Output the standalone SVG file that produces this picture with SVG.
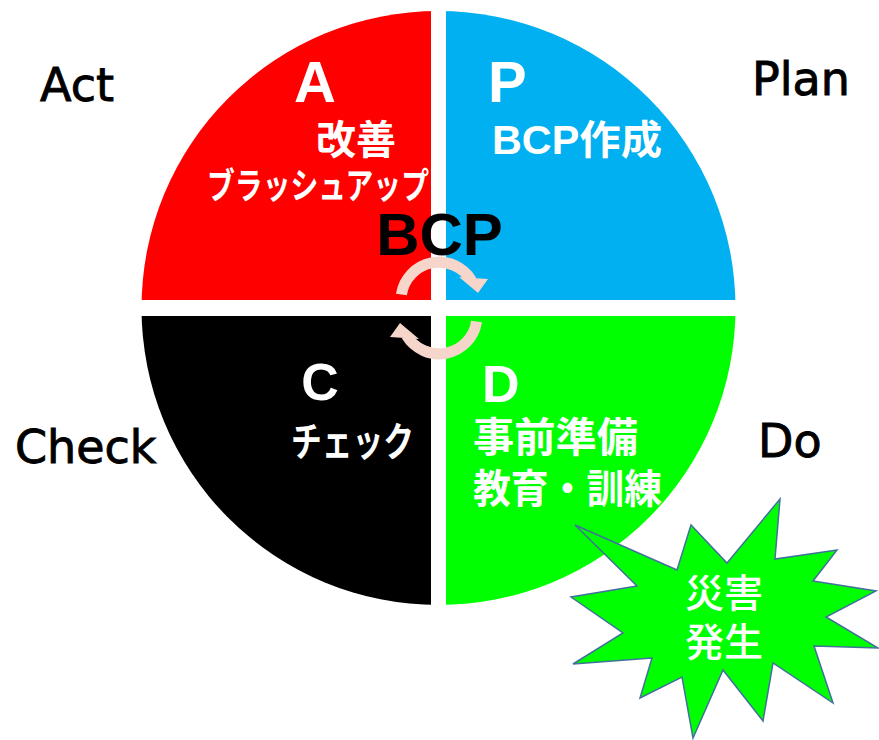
<svg xmlns="http://www.w3.org/2000/svg" width="879" height="740" viewBox="0 0 879 740">
<style>
.lbl{font-family:"DejaVu Sans","Liberation Sans",sans-serif;font-size:46px;fill:#000;stroke:#000;stroke-width:0.9px}
.big{font-family:"Liberation Sans",Arial,sans-serif;font-weight:bold;fill:#fff}
.jp{font-family:"Liberation Sans","Noto Sans CJK JP",sans-serif;font-weight:bold;fill:#fff}
.arc{fill:none;stroke:#F6D6CB;stroke-width:11}
.head{fill:#F6D6CB}
</style>
<defs>
<clipPath id="disc"><circle cx="438.5" cy="308" r="297"/></clipPath>
<g id="cyc">
<path class="arc" d="M401.4 294.5 A38 38 0 0 1 471.5 280.5"/>
<polygon class="head" points="459,277 488,279 478,293"/>
</g>
</defs>
<rect width="879" height="740" fill="#fff"/>
<g id="quad-A">
<rect x="120" y="0" width="311" height="300" fill="#FF0000" clip-path="url(#disc)"/>
<text class="big" x="315" y="102" font-size="58" text-anchor="middle">A</text>
<text class="jp" x="356" y="154" font-size="40" text-anchor="middle">改善</text>
<text class="jp" x="207" y="199" font-size="36" textLength="222" lengthAdjust="spacingAndGlyphs">ブラッシュアップ</text>
</g>
<g id="quad-P">
<rect x="446" y="0" width="310" height="300" fill="#00B0F0" clip-path="url(#disc)"/>
<text class="big" x="488" y="102" font-size="58">P</text>
<text class="jp" x="492" y="154" font-size="40" textLength="170" lengthAdjust="spacingAndGlyphs">BCP作成</text>
</g>
<g id="quad-C">
<rect x="120" y="316" width="311" height="300" fill="#000000" clip-path="url(#disc)"/>
<text class="big" x="320" y="400" font-size="52" text-anchor="middle">C</text>
<text class="jp" x="291" y="456" font-size="40" textLength="123" lengthAdjust="spacingAndGlyphs">チェック</text>
</g>
<g id="quad-D">
<rect x="446" y="316" width="310" height="300" fill="#00FF00" clip-path="url(#disc)"/>
<text class="big" x="482" y="402" font-size="52">D</text>
<text class="jp" x="473" y="452" font-size="41" textLength="165" lengthAdjust="spacingAndGlyphs">事前準備</text>
<text class="jp" x="473" y="503" font-size="40" textLength="189" lengthAdjust="spacingAndGlyphs">教育・訓練</text>
</g>
<g id="center-BCP">
<text x="439.5" y="255" font-family="Liberation Sans,Arial,sans-serif" font-weight="bold" font-size="60" text-anchor="middle" fill="#000">BCP</text>
</g>
<g id="connectors">
<use href="#cyc"/>
<use href="#cyc" transform="rotate(180 439 308)"/>
</g>
<g id="disaster">
<polygon points="575,525 677,570 691,525 727,563 780,499 775,559 837,550 813,581 876,591 826,617 878,648 814,646 833,703 773,663 763,721 723,670 693,738 682,677 640,698 652,658 573,664 623,633 571,597 637,586" fill="#00FF00" stroke="#41719C" stroke-width="1.5" stroke-linejoin="miter"/>
<text x="724" y="607" font-family="Noto Sans CJK JP,sans-serif" font-weight="500" font-size="39" fill="#fff" text-anchor="middle">災害</text>
<text x="724" y="656" font-family="Noto Sans CJK JP,sans-serif" font-weight="500" font-size="39" fill="#fff" text-anchor="middle">発生</text>
</g>
<g id="labels">
<text class="lbl" x="40" y="101">Act</text>
<text class="lbl" x="752" y="95">Plan</text>
<text class="lbl" x="15" y="463">Check</text>
<text class="lbl" x="758" y="457">Do</text>
</g>
</svg>
